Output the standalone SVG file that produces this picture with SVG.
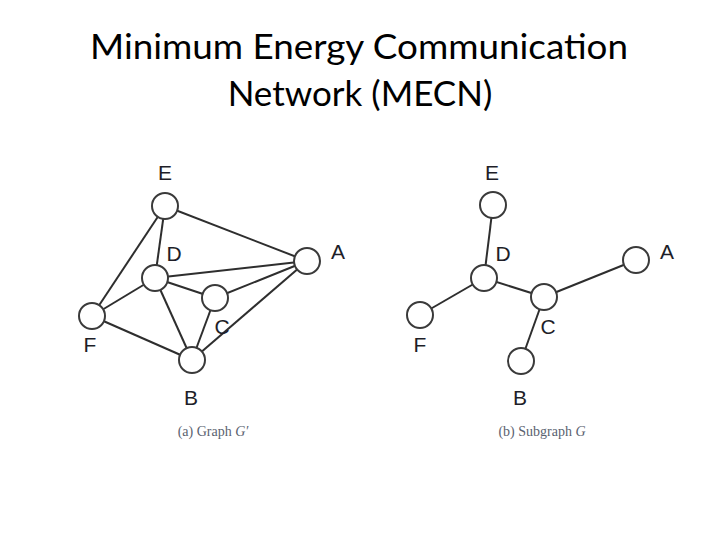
<svg xmlns="http://www.w3.org/2000/svg" width="720" height="540" viewBox="0 0 720 540">
<style>
.title{font-family:Lato,"Open Sans","Liberation Sans",sans-serif;font-size:35px;fill:#000;text-anchor:middle}
.node circle{fill:#fff;stroke:#3a3a3a;stroke-width:2}
.lbl{font-family:"Liberation Sans",Arial,sans-serif;font-size:21px;fill:#1e1e28;text-anchor:middle}
.edges line{stroke:#2e2e2e;stroke-width:2}
.cap{font-family:"Liberation Serif","Times New Roman",serif;font-size:14px;fill:#5a6270;text-anchor:middle}
</style>
<rect width="720" height="540" fill="#fff"/>
<text class="title" x="359" y="59" textLength="538" lengthAdjust="spacingAndGlyphs">Minimum Energy Communication</text>
<text class="title" x="360" y="106">Network (MECN)</text>

<g id="edges-a" class="edges">
<line x1="165" y1="206" x2="307" y2="261"/>
<line x1="165" y1="206" x2="155" y2="278"/>
<line x1="165" y1="206" x2="92" y2="316"/>
<line x1="155" y1="278" x2="307" y2="261"/>
<line x1="155" y1="278" x2="215" y2="298"/>
<line x1="155" y1="278" x2="92" y2="316"/>
<line x1="155" y1="278" x2="192" y2="360"/>
<line x1="215" y1="298" x2="307" y2="261"/>
<line x1="215" y1="298" x2="192" y2="360"/>
<line x1="92" y1="316" x2="192" y2="360"/>
<line x1="192" y1="360" x2="307" y2="261"/>
</g>

<g id="a-E" class="node"><circle cx="165" cy="206" r="13"/><text class="lbl" x="165" y="180">E</text></g>
<g id="a-D" class="node"><circle cx="155" cy="278" r="13"/><text class="lbl" x="174" y="261">D</text></g>
<g id="a-A" class="node"><circle cx="307" cy="261" r="13"/><text class="lbl" x="338" y="259">A</text></g>
<g id="a-C" class="node"><circle cx="215" cy="298" r="13"/><text class="lbl" x="222" y="334">C</text></g>
<g id="a-F" class="node"><circle cx="92" cy="316" r="13"/><text class="lbl" x="90" y="352">F</text></g>
<g id="a-B" class="node"><circle cx="192" cy="360" r="13"/><text class="lbl" x="191" y="405">B</text></g>
<text class="cap" x="213" y="436">(a) Graph <tspan font-style="italic">G′</tspan></text>

<g id="edges-b" class="edges">
<line x1="493" y1="205" x2="484" y2="278"/>
<line x1="484" y1="278" x2="420" y2="315"/>
<line x1="484" y1="278" x2="544" y2="297"/>
<line x1="544" y1="297" x2="636" y2="260"/>
<line x1="544" y1="297" x2="521" y2="361"/>
</g>

<g id="b-E" class="node"><circle cx="493" cy="205" r="13"/><text class="lbl" x="492" y="180">E</text></g>
<g id="b-D" class="node"><circle cx="484" cy="278" r="13"/><text class="lbl" x="503" y="261">D</text></g>
<g id="b-A" class="node"><circle cx="636" cy="260" r="13"/><text class="lbl" x="667" y="259">A</text></g>
<g id="b-C" class="node"><circle cx="544" cy="297" r="13"/><text class="lbl" x="548" y="334">C</text></g>
<g id="b-F" class="node"><circle cx="420" cy="315" r="13"/><text class="lbl" x="420" y="352">F</text></g>
<g id="b-B" class="node"><circle cx="521" cy="361" r="13"/><text class="lbl" x="520" y="405">B</text></g>
<text class="cap" x="542" y="436">(b) Subgraph <tspan font-style="italic">G</tspan></text>
</svg>
